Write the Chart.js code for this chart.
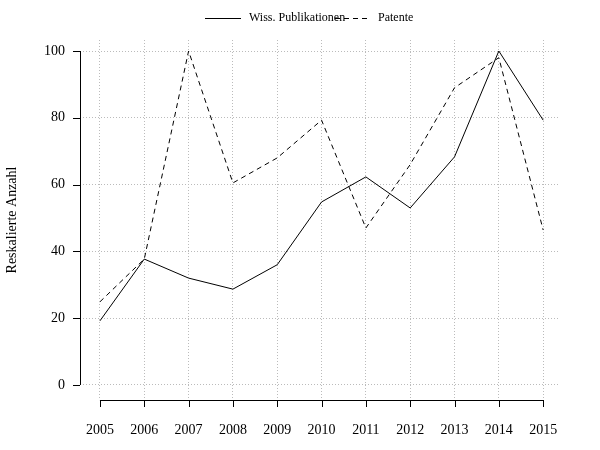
<!DOCTYPE html>
<html><head><meta charset="utf-8">
<script src="https://cdn.jsdelivr.net/npm/chart.js@4"></script>
<style>body{margin:0;background:#fff}#wrap{width:600px;height:450px}</style>
</head><body><div id="wrap"><canvas id="c"></canvas></div>
<script>
var years = [2005,2006,2007,2008,2009,2010,2011,2012,2013,2014,2015];
var publikationen = [19.2,37.7,32,28.7,36,54.8,62.3,53,68.3,100,79.3];
var patente = [24.9,37.7,100,60.5,68,79.3,47,66,89,98,46.4];
var yTicks = [0,20,40,60,80,100];
var seriesNames = ['Wiss. Publikationen', 'Patente'];

function pts(v){ return v.map(function(y,i){ return {x: years[i], y: y}; }); }

// R-style detached axes and a simple top legend
var rAxes = {
  id: 'rAxes',
  afterDraw: function(chart){
    var ctx = chart.ctx, x = chart.scales.x, y = chart.scales.y, a = chart.chartArea;
    ctx.save();
    ctx.strokeStyle = '#000'; ctx.lineWidth = 1; ctx.setLineDash([]);
    ctx.beginPath();
    ctx.moveTo(a.left + .5, y.getPixelForValue(0)); ctx.lineTo(a.left + .5, y.getPixelForValue(100));
    yTicks.forEach(function(t){ var p = Math.round(y.getPixelForValue(t)) + .5; ctx.moveTo(a.left, p); ctx.lineTo(a.left - 7, p); });
    ctx.moveTo(x.getPixelForValue(2005), a.bottom + .5); ctx.lineTo(x.getPixelForValue(2015), a.bottom + .5);
    years.forEach(function(t){ var p = Math.round(x.getPixelForValue(t)) + .5; ctx.moveTo(p, a.bottom); ctx.lineTo(p, a.bottom + 7); });
    ctx.stroke();

    // legend
    ctx.font = '12px "Liberation Serif"'; ctx.fillStyle = '#000'; ctx.textBaseline = 'middle';
    ctx.beginPath(); ctx.moveTo(205, 18.5); ctx.lineTo(241, 18.5); ctx.stroke();
    ctx.fillText(seriesNames[0], 249, 18);
    ctx.setLineDash([5, 4]);
    ctx.beginPath(); ctx.moveTo(335, 18.5); ctx.lineTo(371, 18.5); ctx.stroke();
    ctx.fillText(seriesNames[1], 378, 18);
    ctx.restore();
  }
};

new Chart(document.getElementById('c'), {
  type: 'line',
  data: {
    datasets: [{
      label: seriesNames[0], data: pts(publikationen),
      borderColor: '#000', borderWidth: 1, pointRadius: 0, tension: 0
    }, {
      label: seriesNames[1], data: pts(patente),
      borderColor: '#000', borderWidth: 1, borderDash: [5, 4], pointRadius: 0, tension: 0
    }]
  },
  options: {
    responsive: true, maintainAspectRatio: false, animation: false,
    layout: { padding: { right: 40, top: 40 } },
    plugins: { tooltip: { enabled: false }, legend: { display: false } },
    scales: {
      x: {
        type: 'linear', min: 2004.55, max: 2015.38,
        afterBuildTicks: function(s){ s.ticks = years.map(function(v){ return {value: v}; }); },
        afterFit: function(s){ s.height = 50; },
        grid: { color: '#bbb', drawTicks: false },
        border: { display: false, dash: [1, 2] },
        ticks: { color: '#000', padding: 22, maxRotation: 0, autoSkip: false,
          font: { family: 'Liberation Serif', size: 14 }, callback: function(v){ return String(v); } }
      },
      y: {
        min: -4.5, max: 103.3,
        afterBuildTicks: function(s){ s.ticks = yTicks.map(function(v){ return {value: v}; }); },
        afterFit: function(s){ s.width = 80; },
        grid: { color: '#bbb', drawTicks: false },
        border: { display: false, dash: [1, 2] },
        ticks: { color: '#000', padding: 15, font: { family: 'Liberation Serif', size: 14 } },
        title: { display: true, text: 'Reskalierte Anzahl', color: '#000', font: { family: 'Liberation Serif', size: 14 } }
      }
    }
  },
  plugins: [rAxes]
});
</script></body></html>
